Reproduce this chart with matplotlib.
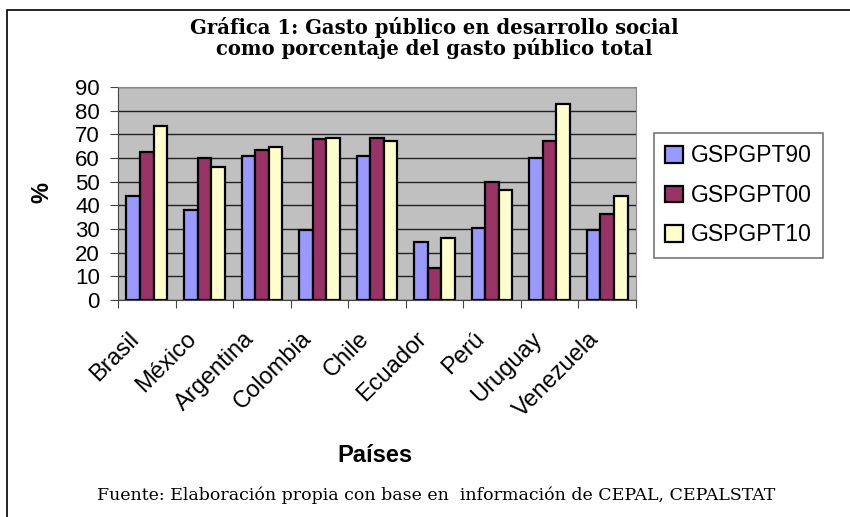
import numpy as np
import matplotlib.pyplot as plt
from matplotlib.patches import Rectangle

# datos
paises = ["Brasil", "México", "Argentina", "Colombia", "Chile", "Ecuador", "Perú", "Uruguay", "Venezuela"]
gsp90 = [44.0, 38.0, 61.0, 29.5, 61.0, 24.5, 30.5, 60.0, 29.5]
gsp00 = [62.5, 60.0, 63.5, 68.0, 68.5, 13.5, 50.0, 67.0, 36.5]
gsp10 = [73.5, 56.0, 64.5, 68.5, 67.0, 26.0, 46.5, 83.0, 44.0]
series = ["GSPGPT90", "GSPGPT00", "GSPGPT10"]
colores = ["#9999FF", "#993366", "#FFFFCC"]

fig = plt.figure(figsize=(8.5, 5.17), dpi=100)
ax = fig.add_axes([118/850, 1 - 300/517, (636-118)/850, (300-87)/517])
ax.set_facecolor("#C0C0C0")

x = np.arange(len(paises))
w = 0.235
for i, (vals, nom, c) in enumerate(zip([gsp90, gsp00, gsp10], series, colores)):
    ax.bar(x + (i - 1) * w, vals, w, color=c, edgecolor="black", linewidth=1.6, label=nom, zorder=3)

ax.set_xlim(-0.5, len(paises) - 0.5)
ax.set_ylim(0, 90)
ax.set_yticks(range(0, 91, 10))
ax.yaxis.grid(True, color="#222222", linewidth=1, zorder=0)
ax.set_axisbelow(True)
for s in ["top", "right"]:
    ax.spines[s].set_color("#888888")
for s in ["left", "bottom"]:
    ax.spines[s].set_color("#444444")

# ticks mayores entre paises, etiquetas en los menores (algo a la izquierda)
ax.set_xticks(np.append(x - 0.5, len(paises) - 0.5))
ax.set_xticklabels([])
ax.set_xticks(x - 0.33, minor=True)
ax.set_xticklabels(paises, minor=True, rotation=45, ha="right", rotation_mode="anchor",
                   fontsize=17, family="Liberation Sans")
ax.tick_params(axis="x", which="minor", length=0, pad=20)
ax.tick_params(axis="x", which="major", length=6, color="#444444")
ax.tick_params(axis="y", length=6, labelsize=16, color="#444444", pad=7)
for t in ax.get_yticklabels():
    t.set_family("Liberation Sans")

fig.text(42/850, 1 - 192/517, "%", fontsize=17, fontweight="bold", family="Liberation Sans",
         rotation=90, ha="center", va="center")
fig.text(375/850, 1 - 455/517, "Países", fontsize=17, fontweight="bold",
         family="Liberation Sans", ha="center", va="center")

leg = fig.legend(loc="upper left", bbox_to_anchor=(654/850, 1 - 133/517), frameon=True,
                 fancybox=False, edgecolor="#555555", handlelength=0.75,
                 handleheight=0.75, labelspacing=0.72, borderpad=0.5, handletextpad=0.35,
                 borderaxespad=0, prop={"family": "Liberation Sans", "size": 16.5})
leg.get_frame().set_linewidth(1.2)

fig.text(434/850, 1 - 38/517, "Gráfica 1: Gasto público en desarrollo social\ncomo porcentaje del gasto público total",
         ha="center", va="center", fontsize=14.1, fontweight="bold", family="DejaVu Serif",
         linespacing=1.05)
fig.text(436/850, 1 - 495/517, "Fuente: Elaboración propia con base en  información de CEPAL, CEPALSTAT",
         ha="center", va="center", fontsize=12.5, family="DejaVu Serif")

fig.patches.append(Rectangle((7/850, -0.1), 1.2, 1 - 10/517 + 0.1, transform=fig.transFigure,
                             fill=False, edgecolor="black", linewidth=1.2))

fig.savefig("out.png", dpi=100)
